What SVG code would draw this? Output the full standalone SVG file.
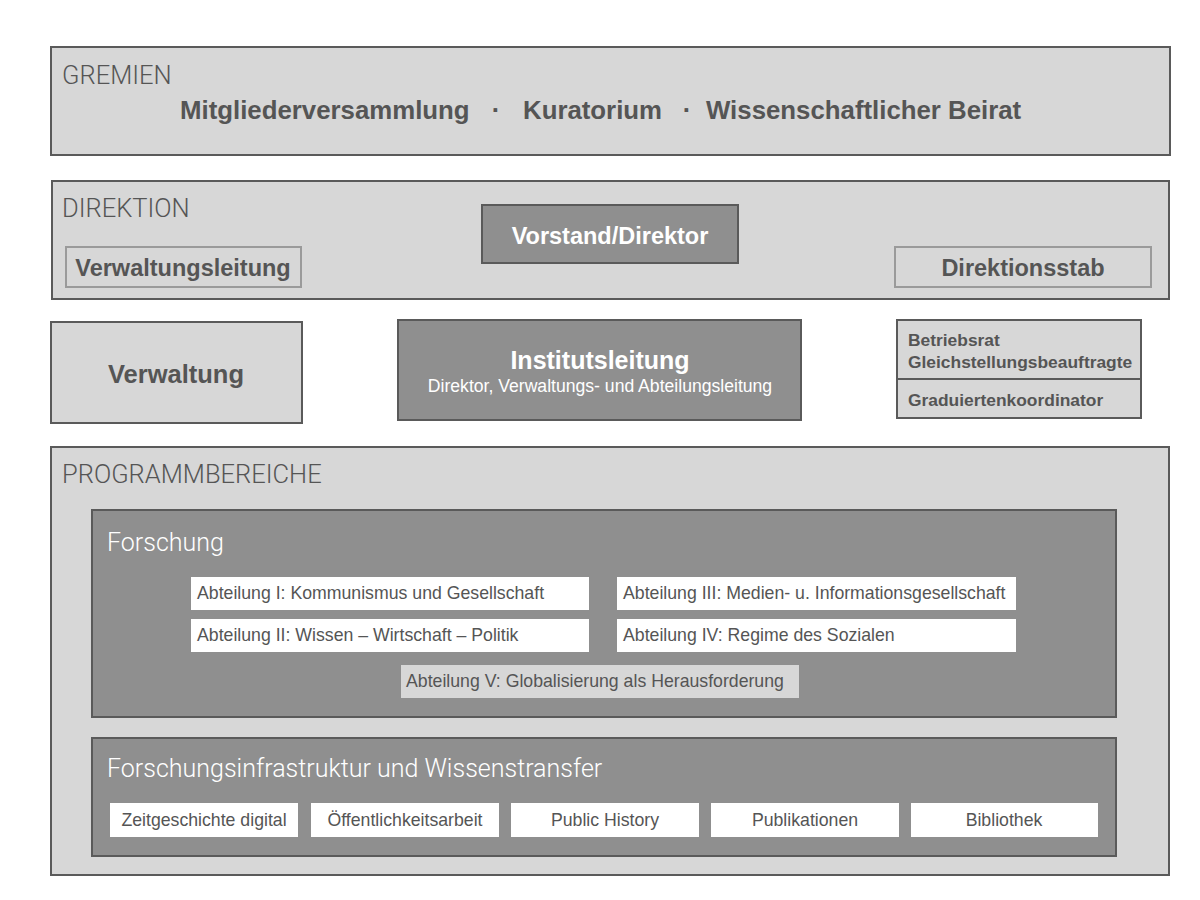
<svg xmlns="http://www.w3.org/2000/svg" width="1200" height="900" viewBox="0 0 1200 900">
<style>
.light{fill:#d7d7d7;stroke:#5a5a5a;stroke-width:2}
.dark{fill:#8f8f8f;stroke:#5a5a5a;stroke-width:2}
.sub{fill:#d7d7d7;stroke:#9a9a9a;stroke-width:2}
.white{fill:#ffffff}
.lite{fill:#d7d7d7}
.sec{font-family:Roboto,"Liberation Sans",sans-serif;font-weight:300;font-size:25.5px;fill:#555}
.secw{font-family:Roboto,"Liberation Sans",sans-serif;font-weight:300;font-size:25px;fill:#fff}
.b{font-family:"Liberation Sans",Arial,sans-serif;font-weight:bold;fill:#555}
.bw{font-family:"Liberation Sans",Arial,sans-serif;font-weight:bold;fill:#fff}
.r{font-family:"Liberation Sans",Arial,sans-serif;font-size:17.7px;fill:#555}
</style>
<rect width="1200" height="900" fill="#ffffff"/>
<g id="gremien">
<rect class="light" x="51" y="47" width="1119" height="108"/>
<text class="sec" x="62" y="84">GREMIEN</text>
<text class="b" font-size="25.8" x="180" y="119">Mitgliederversammlung</text>
<text class="b" font-size="25.8" x="496" y="119" text-anchor="middle">·</text>
<text class="b" font-size="25.8" x="523" y="119">Kuratorium</text>
<text class="b" font-size="25.8" x="687" y="119" text-anchor="middle">·</text>
<text class="b" font-size="25.8" x="706" y="119">Wissenschaftlicher Beirat</text>
</g>
<g id="direktion">
<rect class="light" x="52" y="181" width="1117" height="118"/>
<text class="sec" x="62" y="217">DIREKTION</text>
</g>
<g id="vorstand">
<rect class="dark" x="482" y="205" width="256" height="58"/>
<text class="bw" font-size="23.5" x="610" y="244" text-anchor="middle">Vorstand/Direktor</text>
</g>
<g id="verwaltungsleitung">
<rect class="sub" x="66" y="247" width="235" height="40"/>
<text class="b" font-size="23.5" x="183" y="276" text-anchor="middle">Verwaltungsleitung</text>
</g>
<g id="direktionsstab">
<rect class="sub" x="895" y="247" width="256" height="40"/>
<text class="b" font-size="23.5" x="1023" y="276" text-anchor="middle">Direktionsstab</text>
</g>
<g id="verwaltung">
<rect class="light" x="51" y="322" width="251" height="101"/>
<text class="b" font-size="25.5" x="176" y="383" text-anchor="middle">Verwaltung</text>
</g>
<g id="institutsleitung">
<rect class="dark" x="398" y="320" width="403" height="100"/>
<text class="bw" font-size="25" x="600" y="369" text-anchor="middle">Institutsleitung</text>
<text font-family="Liberation Sans,Arial,sans-serif" font-size="17.6" fill="#fff" x="600" y="392" text-anchor="middle">Direktor, Verwaltungs- und Abteilungsleitung</text>
</g>
<g id="betriebsrat">
<rect class="light" x="897" y="320" width="244" height="98"/>
<line x1="897" y1="379" x2="1141" y2="379" stroke="#5a5a5a" stroke-width="2"/>
<text class="b" font-size="17.4" x="908" y="346">Betriebsrat</text>
<text class="b" font-size="17.4" x="908" y="368">Gleichstellungsbeauftragte</text>
<text class="b" font-size="17.4" x="908" y="406">Graduiertenkoordinator</text>
</g>
<g id="programmbereiche">
<rect class="light" x="51" y="447" width="1118" height="428"/>
<text class="sec" x="62" y="483">PROGRAMMBEREICHE</text>
</g>
<g id="forschung">
<rect class="dark" x="92" y="510" width="1024" height="207"/>
<text class="secw" x="107" y="551">Forschung</text>
</g>
<g id="abt1">
<rect class="white" x="191" y="577" width="398" height="33"/>
<text class="r" x="197" y="599">Abteilung I: Kommunismus und Gesellschaft</text>
</g>
<g id="abt3">
<rect class="white" x="617" y="577" width="399" height="33"/>
<text class="r" x="623" y="599">Abteilung III: Medien- u. Informationsgesellschaft</text>
</g>
<g id="abt2">
<rect class="white" x="191" y="619" width="398" height="33"/>
<text class="r" x="197" y="641">Abteilung II: Wissen – Wirtschaft – Politik</text>
</g>
<g id="abt4">
<rect class="white" x="617" y="619" width="399" height="33"/>
<text class="r" x="623" y="641">Abteilung IV: Regime des Sozialen</text>
</g>
<g id="abt5">
<rect class="lite" x="401" y="665" width="398" height="33"/>
<text class="r" x="406" y="687">Abteilung V: Globalisierung als Herausforderung</text>
</g>
<g id="infrastruktur">
<rect class="dark" x="92" y="738" width="1024" height="118"/>
<text class="secw" x="107" y="777">Forschungsinfrastruktur und Wissenstransfer</text>
</g>
<g id="zeitgeschichte">
<rect class="white" x="110" y="803" width="188" height="34"/>
<text class="r" x="204" y="826" text-anchor="middle">Zeitgeschichte digital</text>
</g>
<g id="oeffentlichkeit">
<rect class="white" x="311" y="803" width="188" height="34"/>
<text class="r" x="405" y="826" text-anchor="middle">Öffentlichkeitsarbeit</text>
</g>
<g id="publichistory">
<rect class="white" x="511" y="803" width="188" height="34"/>
<text class="r" x="605" y="826" text-anchor="middle">Public History</text>
</g>
<g id="publikationen">
<rect class="white" x="711" y="803" width="188" height="34"/>
<text class="r" x="805" y="826" text-anchor="middle">Publikationen</text>
</g>
<g id="bibliothek">
<rect class="white" x="911" y="803" width="187" height="34"/>
<text class="r" x="1004" y="826" text-anchor="middle">Bibliothek</text>
</g>
<g id="connectors"></g>
</svg>
